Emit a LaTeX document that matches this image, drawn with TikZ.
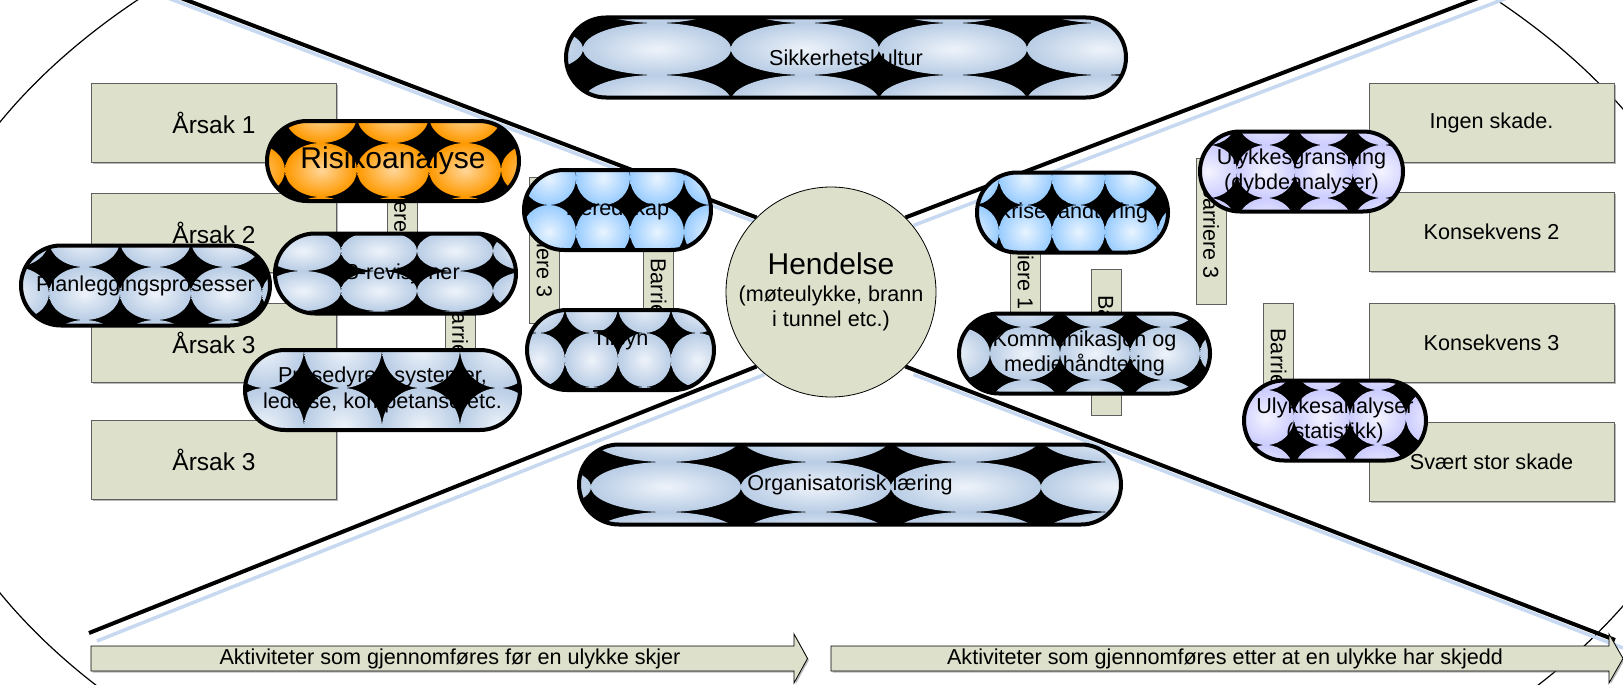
\documentclass[tikz,border=0pt]{standalone}
\usepackage{fontspec}
\setmainfont{Liberation Sans}
\usepackage{tikz}
\usetikzlibrary{shadows,backgrounds}

\definecolor{boxfill}{HTML}{DDE0CB}
\definecolor{boxline}{HTML}{5F5F5F}
\definecolor{shadowblue}{HTML}{C6D9F1}
\definecolor{steeldark}{HTML}{B9CDE5}
\definecolor{steellight}{HTML}{EEF3FA}
\definecolor{skydark}{HTML}{99CCFF}
\definecolor{skylight}{HTML}{E8F4FF}
\definecolor{orangedark}{HTML}{FF9900}
\definecolor{orangelight}{HTML}{FFD699}
\definecolor{lavdark}{HTML}{CCCCFF}
\definecolor{lavlight}{HTML}{F4F4FF}

\begin{document}
\begin{tikzpicture}[
  x=1pt, y=-1pt,
  font=\fontsize{21.6}{25.5}\selectfont,
  cause/.style={draw=boxline, fill=boxfill, line width=0.8pt,
                minimum width=245pt, minimum height=79pt,
                drop shadow={shadow xshift=1.5pt, shadow yshift=-1.5pt, fill=black!55}},
  barrier/.style={draw=boxline, fill=boxfill, line width=0.8pt, rotate=-90,
                  minimum width=146pt, minimum height=30pt, inner sep=0pt},
  event/.style={circle, draw=black, line width=0.8pt, fill=boxfill,
                minimum size=210pt, inner sep=0pt, align=center},
  phase/.style={draw=black, line width=0.8pt, fill=boxfill,
                drop shadow={shadow xshift=1.5pt, shadow yshift=-1.5pt, fill=black!55}},
  tiles/.code n args={4}{\def\tilew{#1}\def\tileh{#2}\def\tileox{#3}\def\tileoy{#4}},
  tilecol/.code 2 args={\colorlet{tilelight}{#1}\colorlet{tiledark}{#2}},
  pill/.style={draw=black, line width=4pt, fill=black, rounded corners=40pt,
               minimum height=80pt, inner sep=0pt, align=center,
               path picture={
                 \foreach \i in {-3,...,3}
                   \foreach \j in {-2,...,1}
                     \shade[inner color=tilelight, outer color=tiledark]
                       ([shift={({\tileox+(\i+0.5)*\tilew},{\tileoy+(\j+0.5)*\tileh})}]path picture bounding box.center)
                       ellipse ({0.5*\tilew} and {0.5*\tileh});
               }},
  steel/.style={tilecol={steellight}{steeldark}},
  sky/.style={tilecol={skylight}{skydark}},
  amber/.style={tilecol={orangelight}{orangedark}},
  lav/.style={tilecol={lavlight}{lavdark}}
]
\useasboundingbox (0,0) rectangle (1623,685);
\clip (0,0) rectangle (1623,685);

%% --- hendelse i midten ---
\node[event] (ev) at (831,292)
  {{\fontsize{30}{34}\selectfont Hendelse}\\[1pt](møteulykke, brann\\i tunnel etc.)};

%% --- sløyfeform og linjer ---
\begin{scope}[on background layer]
  \fill[white] (0,0) rectangle (1623,685);
  \draw[line width=1.2pt] (817,357.5) ellipse (908 and 539);
  \coordinate (tl) at (160,-10);
  \coordinate (tr) at (1499,-10);
  \coordinate (bl) at (89,633);
  \coordinate (br) at (1615,640);
  \foreach \c/\a in {tl/135, tr/45, bl/225, br/-45}{
    \draw[shadowblue, line width=3.5pt]
      ([shift={(8,8)}]\c) -- ([shift={(8,8)}]ev.\a);
    \draw[black, line width=4pt] (\c) -- (ev.\a);
  }
\end{scope}

%% --- tidsakse nederst ---
\draw[phase] (91,646) -- (794,646) -- (794,634) -- (807.5,658.5)
  -- (794,683) -- (794,671) -- (91,671) -- cycle;
\node (before) at (450,658.5) {Aktiviteter som gjennomføres før en ulykke skjer};
\draw[phase] (831,646) -- (1609,646) -- (1609,634) -- (1623,658.5)
  -- (1609,683) -- (1609,671) -- (831,671) -- cycle;
\node (after) at (1225,658.5) {Aktiviteter som gjennomføres etter at en ulykke har skjedd};

%% --- årsaker og konsekvenser ---
\node[cause, font=\fontsize{24.5}{28}\selectfont] (c1) at (214,123) {Årsak 1};
\node[cause, font=\fontsize{24.5}{28}\selectfont] (c2) at (214,233) {Årsak 2};
\node[cause, font=\fontsize{24.5}{28}\selectfont] (c3) at (214,343) {Årsak 3};
\node[cause, font=\fontsize{24.5}{28}\selectfont] (c4) at (214,460) {Årsak 3};
\node[cause] (k1) at (1491.5,123) {Ingen skade.};
\node[cause] (k2) at (1491.5,232) {Konsekvens 2};
\node[cause] (k3) at (1491.5,343) {Konsekvens 3};
\node[cause] (k4) at (1491.5,461.5) {Svært stor skade};

%% --- barrierer ---
\node[barrier] (bA) at (402,203) {Barriere 1};
\node[barrier] (bB) at (460,346) {Barriere 2};
\node[barrier] (bC) at (544.5,250) {Barriere 3};
\node[barrier] (bD) at (658.5,306) {Barriere 2};
\node[barrier] (bE) at (1025.5,262) {Barriere 1};
\node[barrier] (bF) at (1106,342.5) {Barriere 2};
\node[barrier] (bG) at (1211,231.5) {Barriere 3};
\node[barrier] (bH) at (1278.5,376) {Barriere 2};

%% --- tiltak ---
\node[pill, steel, tiles={148}{52}{33}{17.5}, minimum width=560pt] (culture)
  at (846,57.5) {Sikkerhetskultur};
\node[pill, amber, tiles={72}{54}{-36}{-18}, minimum width=252pt,
      font=\fontsize{30}{34}\selectfont] (risk)
  at (393,161) {Risikoanalyse};
\node[pill, steel, tiles={71}{53}{-25.5}{-18.5}, minimum width=249pt] (plan)
  at (145.5,285.5) {Planleggingsprosesser};
\node[pill, steel, tiles={76}{40}{21.5}{-2.5}, minimum width=241pt] (audit)
  at (395.5,273.5) {TS-revisjoner};
\node[pill, steel, tiles={78}{80}{-0.5}{-2}, minimum width=275pt] (proc)
  at (382.5,390) {Prosedyrer, systemer,\\ledelse, kompetanse etc.};
\node[pill, sky, tiles={54}{54}{12.5}{-5}, minimum width=187pt] (prep)
  at (617.5,210) {Beredskap};
\node[pill, steel, tiles={53}{54}{-2.5}{-17}, minimum width=187pt] (insp)
  at (620.5,350) {Tilsyn\\\mbox{}};
\node[pill, sky, tiles={53}{54}{-20.5}{-7.5}, minimum width=191pt] (crisis)
  at (1072.5,212.5) {Krisehåndtering};
\node[pill, steel, tiles={70}{53}{-24.5}{-26.5}, minimum width=251pt] (comm)
  at (1084.5,353.5) {Kommunikasjon og\\mediehåndtering};
\node[pill, lav, tiles={58}{53}{-6.5}{-26.5}, minimum width=203pt] (invest)
  at (1301.5,171.5) {Ulykkesgransking\\(dybdeanalyser)};
\node[pill, lav, tiles={56}{55}{15}{24.5}, minimum width=182pt] (stats)
  at (1335,420.5) {Ulykkesanalyser\\(statistikk)};
\node[pill, steel, tiles={150}{50}{41}{-22.5}, minimum width=542pt] (learn)
  at (850,484.5) {Organisatorisk læring};
\end{tikzpicture}
\end{document}
